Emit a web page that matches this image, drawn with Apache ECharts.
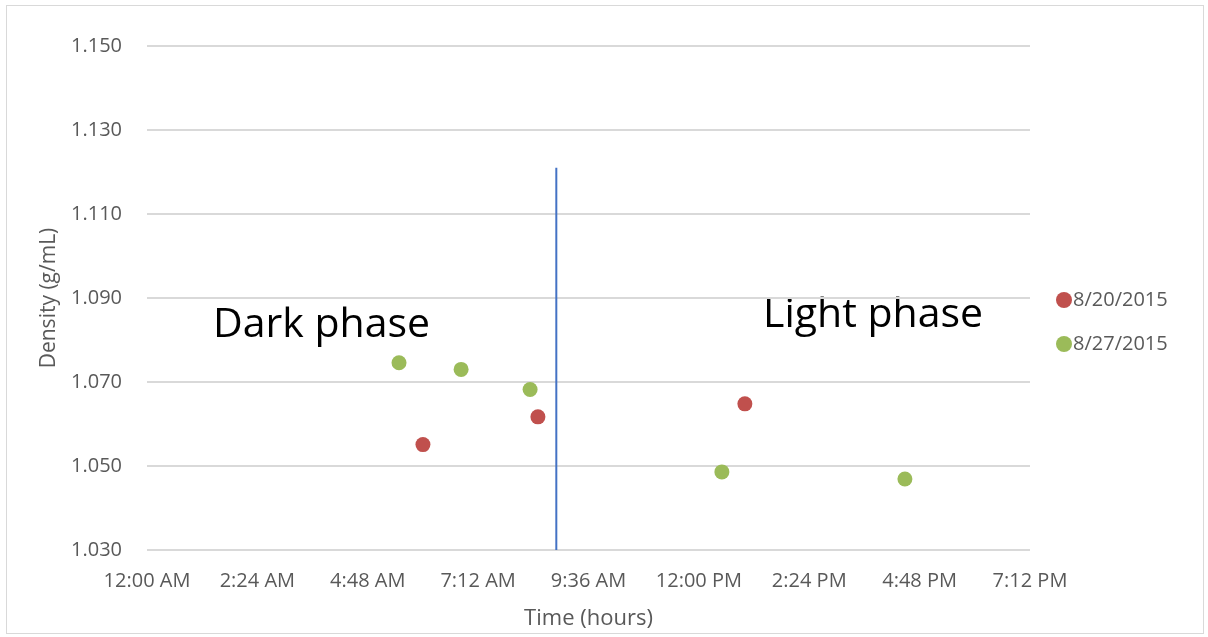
<!DOCTYPE html>
<html>
<head>
<meta charset="utf-8">
<script src="https://cdn.jsdelivr.net/npm/echarts@6/dist/echarts.min.js"></script>
<style>
  html, body { margin: 0; padding: 0; background: #fff; }
  #frame { position: absolute; left: 6px; top: 5px; width: 1198px; height: 629px; border: 1px solid #d9d9d9; box-sizing: border-box; }
  #chart { width: 1208px; height: 637px; }
</style>
</head>
<body>
<div id="frame"></div>
<div id="chart"></div>
<script>
// hours since midnight, density g/mL
const series0820 = [[6.0, 1.0551], [8.5, 1.0617], [13.0, 1.0648]];
const series0827 = [[5.48, 1.0746], [6.83, 1.0730], [8.33, 1.0682], [12.5, 1.0486], [16.48, 1.0469]];
const phaseLine = [[8.9, 1.030], [8.9, 1.121]];
const seriesNames = ['8/20/2015', '8/27/2015'];

const textColor = '#595959';
const font = 'Open Sans, Liberation Sans, sans-serif';

function fmtTime (h) {
  const total = Math.round(h * 60);
  let hh = Math.floor(total / 60) % 24;
  const mm = total % 60;
  const ap = hh < 12 ? 'AM' : 'PM';
  let h12 = hh % 12;
  if (h12 === 0) h12 = 12;
  return h12 + ':' + (mm < 10 ? '0' : '') + mm + ' ' + ap;
}

const chart = echarts.init(document.getElementById('chart'));
const option = {
  animation: false,
  textStyle: { fontFamily: font },
  grid: { left: 147, right: 178, top: 46, bottom: 87 },
  legend: {
    orient: 'vertical',
    left: 1051,
    top: 285,
    itemGap: 24,
    itemWidth: 16,
    itemHeight: 16,
    icon: 'circle',
    data: seriesNames,
    textStyle: { fontSize: 20, color: textColor, fontFamily: font, padding: [0, 0, 0, -4] }
  },
  xAxis: {
    type: 'value',
    min: 0,
    max: 19.2,
    interval: 2.4,
    name: 'Time (hours)',
    nameLocation: 'middle',
    nameGap: 58,
    nameTextStyle: { fontSize: 22, color: textColor },
    axisLine: { show: false },
    axisTick: { show: false },
    splitLine: { show: false },
    axisLabel: { fontSize: 20, color: textColor, margin: 21, formatter: fmtTime }
  },
  yAxis: {
    type: 'value',
    min: 1.030,
    max: 1.150,
    interval: 0.020,
    name: 'Density (g/mL)',
    nameLocation: 'middle',
    nameGap: 87,
    nameTextStyle: { fontSize: 21, color: textColor },
    axisLine: { show: false },
    axisTick: { show: false },
    splitLine: { lineStyle: { color: '#d9d9d9', width: 2 } },
    axisLabel: { fontSize: 20, color: textColor, margin: 25, formatter: v => v.toFixed(3) }
  },
  series: [
    {
      name: seriesNames[0],
      type: 'scatter',
      symbolSize: 15,
      itemStyle: { color: '#C0504D', opacity: 1 },
      data: series0820,
      z: 3
    },
    {
      name: seriesNames[1],
      type: 'scatter',
      symbolSize: 15,
      itemStyle: { color: '#9BBB59', opacity: 1 },
      data: series0827,
      z: 3
    },
    {
      type: 'line',
      data: phaseLine,
      symbol: 'none',
      lineStyle: { color: '#4472C4', width: 2 },
      z: 2
    }
  ],
  graphic: [
    { type: 'text', left: 213, top: 305, style: { text: 'Dark phase', fontSize: 41, fill: '#000', fontFamily: font } },
    { type: 'text', left: 763, top: 295, style: { text: 'Light phase', fontSize: 41, fill: '#000', fontFamily: font } }
  ]
};
chart.setOption(option);
</script>
</body>
</html>
